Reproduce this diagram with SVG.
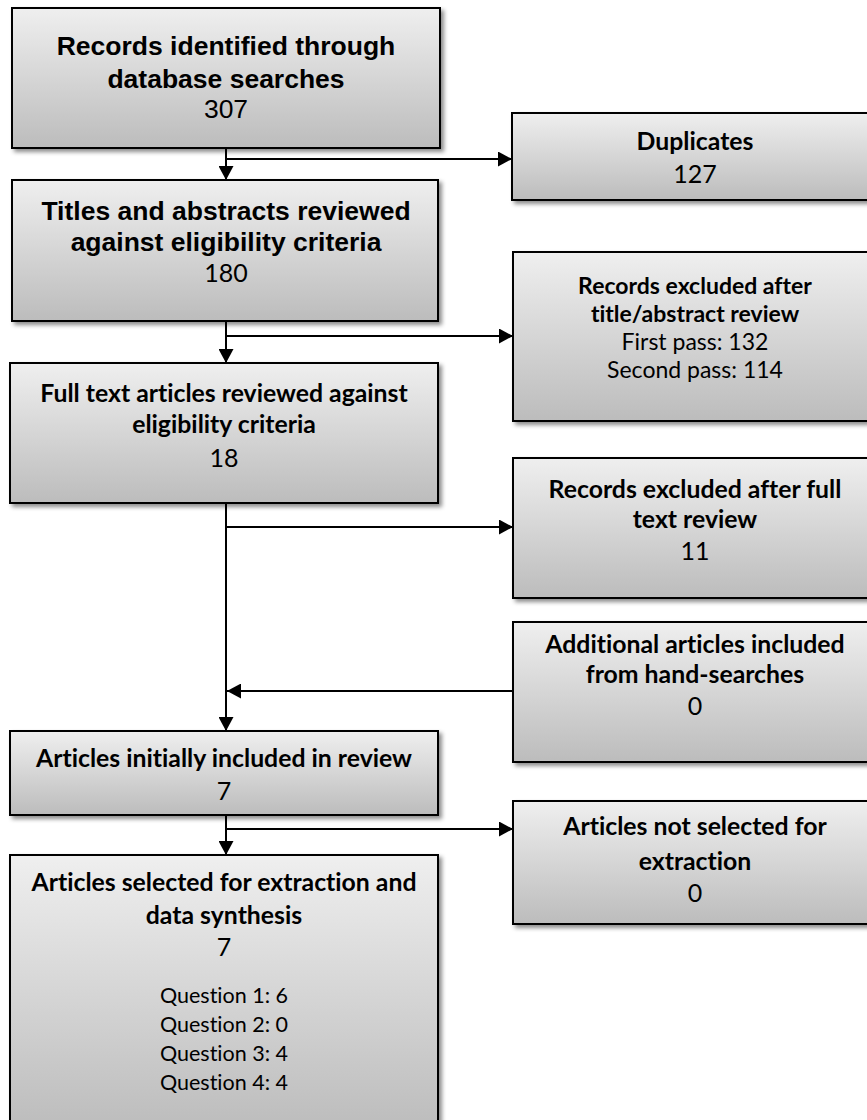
<svg xmlns="http://www.w3.org/2000/svg" width="867" height="1120" viewBox="0 0 867 1120">
<style>
.box{fill:url(#g);stroke:#000;stroke-width:2;filter:url(#sh)}
text{font-variant-ligatures:none;text-anchor:middle;fill:#000}
.a{font-family:"Liberation Sans",Arial,sans-serif;font-weight:bold;font-size:26.5px}
.an{font-family:"Liberation Sans",Arial,sans-serif;font-size:26.5px}
.c{font-family:Lato,"Open Sans",sans-serif;font-weight:bold;font-size:24.8px}
.cn{font-family:Lato,"Open Sans",sans-serif;font-size:25px}
.s{font-size:23px}
.q{font-family:Lato,"Open Sans",sans-serif;font-size:21.5px}
.ln{fill:none;stroke:#000;stroke-width:2}
</style>
<defs>
<linearGradient id="g" x1="0" y1="0" x2="0" y2="1">
<stop offset="0" stop-color="#efefef"/>
<stop offset="1" stop-color="#bcbcbc"/>
</linearGradient>
<filter id="sh" x="-5%" y="-5%" width="115%" height="120%">
<feDropShadow dx="3" dy="3" stdDeviation="2" flood-color="#000" flood-opacity="0.45"/>
</filter>
<marker id="ah" markerUnits="userSpaceOnUse" markerWidth="15" markerHeight="15" refX="14" refY="7.5" orient="auto" viewBox="0 0 15 15">
<path d="M0,0 L14,7.5 L0,15 z" fill="#000"/>
</marker>
</defs>

<g id="connectors">
<path class="ln" d="M226,148 V180" marker-end="url(#ah)"/>
<path class="ln" d="M226,159 H512" marker-end="url(#ah)"/>
<path class="ln" d="M226,321 V363" marker-end="url(#ah)"/>
<path class="ln" d="M226,336 H513" marker-end="url(#ah)"/>
<path class="ln" d="M226,503 V731" marker-end="url(#ah)"/>
<path class="ln" d="M226,527 H513" marker-end="url(#ah)"/>
<path class="ln" d="M513,691 H227" marker-end="url(#ah)"/>
<path class="ln" d="M226,815 V855" marker-end="url(#ah)"/>
<path class="ln" d="M226,829 H513" marker-end="url(#ah)"/>
</g>

<g id="records-identified">
<rect class="box" x="12" y="8" width="428" height="140"/>
<text class="a" x="226" y="55">Records identified through</text>
<text class="a" x="226" y="88">database searches</text>
<text class="an" x="226" y="118">307</text>
</g>

<g id="duplicates">
<rect class="box" x="512" y="113" width="366" height="87"/>
<text class="c" x="695" y="150">Duplicates</text>
<text class="cn" x="695" y="183">127</text>
</g>

<g id="titles-abstracts">
<rect class="box" x="12" y="180" width="426" height="141"/>
<text class="a" x="226" y="220">Titles and abstracts reviewed</text>
<text class="a" x="226" y="251">against eligibility criteria</text>
<text class="cn" x="226" y="282">180</text>
</g>

<g id="excluded-title-abstract">
<rect class="box" x="513" y="252" width="365" height="169"/>
<text class="c s" x="695" y="294">Records excluded after</text>
<text class="c s" x="695" y="322">title/abstract review</text>
<text class="cn s" x="695" y="350">First pass: 132</text>
<text class="cn s" x="695" y="378">Second pass: 114</text>
</g>

<g id="full-text">
<rect class="box" x="10" y="363" width="428" height="140"/>
<text class="c" x="224" y="402">Full text articles reviewed against</text>
<text class="c" x="224" y="433">eligibility criteria</text>
<text class="cn" x="224" y="467">18</text>
</g>

<g id="excluded-full-text">
<rect class="box" x="513" y="458" width="365" height="140"/>
<text class="c" x="695" y="498">Records excluded after full</text>
<text class="c" x="695" y="528">text review</text>
<text class="cn" x="695" y="560">11</text>
</g>

<g id="additional-articles">
<rect class="box" x="513" y="622" width="365" height="140"/>
<text class="c" x="695" y="653">Additional articles included</text>
<text class="c" x="695" y="683">from hand-searches</text>
<text class="cn" x="695" y="715">0</text>
</g>

<g id="initially-included">
<rect class="box" x="10" y="731" width="428" height="84"/>
<text class="c" x="224" y="767">Articles initially included in review</text>
<text class="cn" x="224" y="800">7</text>
</g>

<g id="not-selected">
<rect class="box" x="513" y="801" width="365" height="123"/>
<text class="c" x="695" y="835">Articles not selected for</text>
<text class="c" x="695" y="870">extraction</text>
<text class="cn" x="695" y="902">0</text>
</g>

<g id="selected">
<rect class="box" x="10" y="855" width="428" height="275"/>
<text class="c" x="224" y="891">Articles selected for extraction and</text>
<text class="c" x="224" y="924">data synthesis</text>
<text class="cn" x="224" y="956">7</text>
<text class="q" x="224" y="1003">Question 1: 6</text>
<text class="q" x="224" y="1032">Question 2: 0</text>
<text class="q" x="224" y="1061">Question 3: 4</text>
<text class="q" x="224" y="1090">Question 4: 4</text>
</g>
</svg>
